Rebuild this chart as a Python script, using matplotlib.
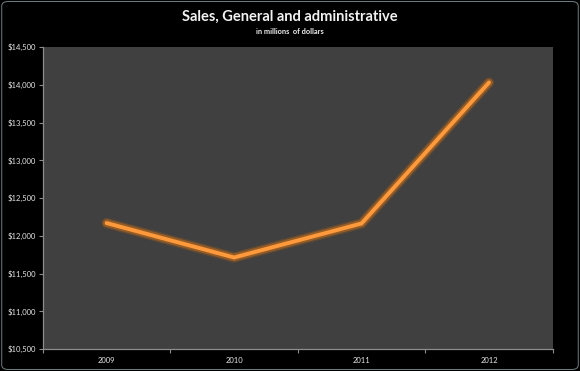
import matplotlib
matplotlib.use('Agg')
import matplotlib.pyplot as plt
from matplotlib.patches import FancyBboxPatch
from matplotlib.ticker import FuncFormatter

### Data
years = ['2009', '2010', '2011', '2012']
sga = [12168, 11712, 12163, 14030]   # millions of dollars
y_ticks = [10500, 11000, 11500, 12000, 12500, 13000, 13500, 14000, 14500]

plt.rcParams['font.family'] = ['Lato', 'DejaVu Sans']

fig = plt.figure(figsize=(5.8, 3.71), dpi=100, facecolor='black')

# faint rounded frame around the whole chart
frame = FancyBboxPatch((0.003, 0.004), 0.994, 0.992, boxstyle='round,pad=0,rounding_size=0.012',
                       transform=fig.transFigure, facecolor='black', edgecolor='#6f7f7f',
                       linewidth=0.7, zorder=-10)
fig.patches.append(frame)

ax = fig.add_axes([0.074, 0.0593, 0.879, 0.814])
ax.set_facecolor('#404040')

x = range(len(years))
# soft glow underneath, then the main line
ax.plot(x, sga, color='#9a5a1c', linewidth=7.5, alpha=0.35, solid_capstyle='round',
        solid_joinstyle='miter')
ax.plot(x, sga, color='#b8691e', linewidth=5.5, alpha=0.6, solid_capstyle='round',
        solid_joinstyle='miter')
ax.plot(x, sga, color='#ff9a3c', linewidth=2.8, solid_capstyle='round',
        solid_joinstyle='miter')

ax.set_xlim(-0.5, len(years) - 0.5)
ax.set_ylim(y_ticks[0], y_ticks[-1])
ax.set_yticks(y_ticks)
ax.yaxis.set_major_formatter(FuncFormatter(lambda v, p: '${:,.0f}'.format(v)))
ax.set_xticks(list(x))
ax.set_xticklabels(years)
ax.set_xticks([i - 0.5 for i in range(len(years) + 1)], minor=True)

ax.tick_params(axis='y', colors='#8c8c8c', labelcolor='#e6e6e6', labelsize=5.5,
               length=3, width=0.8, direction='out', pad=2)
ax.tick_params(axis='x', which='major', length=0, labelcolor='#e6e6e6', labelsize=5.5, pad=6)
ax.tick_params(axis='x', which='minor', colors='#8c8c8c', length=3, width=0.8, direction='out')

for side in ['top', 'right']:
    ax.spines[side].set_visible(False)
for side in ['left', 'bottom']:
    ax.spines[side].set_color('#8c8c8c')
    ax.spines[side].set_linewidth(0.9)

fig.text(0.5, 0.955, 'Sales, General and administrative', ha='center', va='center',
         color='#f2f2f2', fontsize=10.5, fontweight='bold')
fig.text(0.5, 0.914, 'in millions  of dollars', ha='center', va='center',
         color='#f2f2f2', fontsize=5.3, fontweight='bold')

fig.savefig('out.png', dpi=100, facecolor='black')
